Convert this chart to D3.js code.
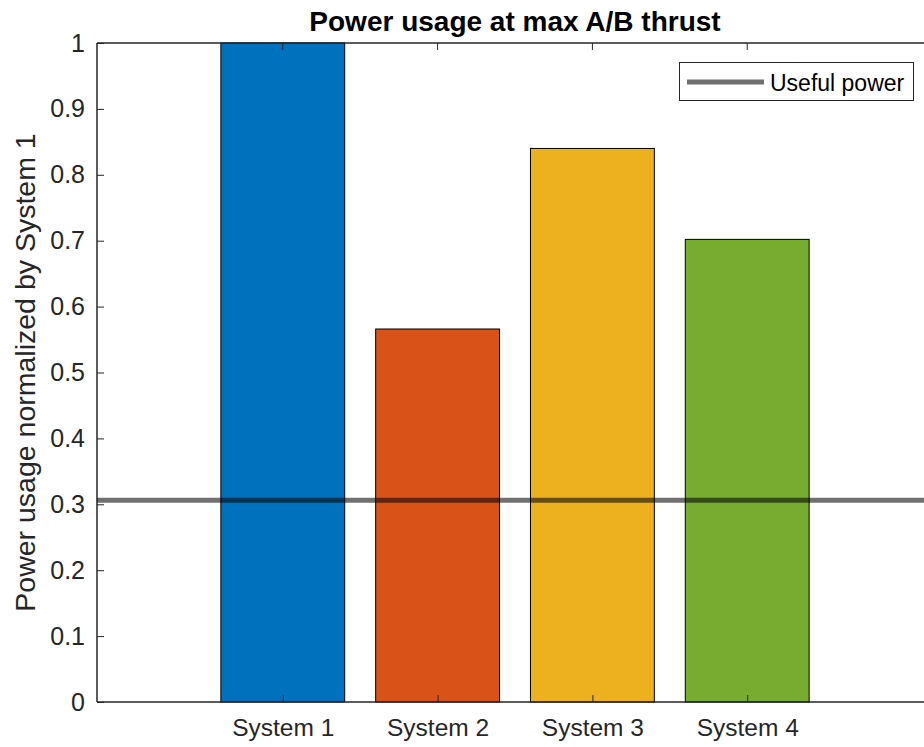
<!DOCTYPE html>
<html>
<head>
<meta charset="utf-8">
<script src="https://cdn.jsdelivr.net/npm/d3@7"></script>
<style>
  html, body { margin: 0; padding: 0; background: #fff; }
  svg { display: block; font-family: "Liberation Sans", Arial, Helvetica, sans-serif; }
</style>
</head>
<body>
<svg id="chart" width="924" height="747"></svg>
<script>
// Normalized power usage per system
const categories = ["System 1", "System 2", "System 3", "System 4"];
const values = [1.0, 0.566, 0.840, 0.702];
const barColors = ["#0072BD", "#D95319", "#EDB120", "#77AC30"];
const usefulPower = 0.306;
const yTicks = [0, 0.1, 0.2, 0.3, 0.4, 0.5, 0.6, 0.7, 0.8, 0.9, 1];
const title = "Power usage at max A/B thrust";
const yLabel = "Power usage normalized by System 1";
const legendLabel = "Useful power";

const svg = d3.select("#chart");
const margin = { left: 97, top: 43, bottom: 702, right: 933 };
const axisColor = "#262626";

// x positions: categories at 1..4, axis spanning -0.2..5.2
const x = d3.scaleLinear().domain([-0.2, 5.2]).range([margin.left, margin.right]);
const y = d3.scaleLinear().domain([0, 1]).range([margin.bottom, margin.top]);
const step = x(2) - x(1);
const barW = step * 0.8;

// bars
svg.append("g").selectAll("rect")
  .data(values)
  .join("rect")
  .attr("x", (d, i) => x(i + 1) - barW / 2)
  .attr("y", d => y(d))
  .attr("width", barW)
  .attr("height", d => y(0) - y(d))
  .attr("fill", (d, i) => barColors[i])
  .attr("stroke", "#000")
  .attr("stroke-width", 1);

// y axis (ticks inward)
const yAxis = d3.axisLeft(y).tickValues(yTicks).tickSize(-7).tickPadding(12)
  .tickFormat(d => d === 0 ? "0" : d === 1 ? "1" : d3.format(".1f")(d));
const gy = svg.append("g").attr("transform", `translate(${margin.left},0)`).call(yAxis);
gy.select(".domain").remove();
gy.selectAll("line").attr("stroke", axisColor);
gy.selectAll("text").attr("fill", axisColor).style("font-size", "25px");

// x axis (ticks inward)
const xAxis = d3.axisBottom(x).tickValues([1, 2, 3, 4]).tickSize(-7).tickPadding(17)
  .tickFormat((d, i) => categories[i]);
const gx = svg.append("g").attr("transform", `translate(0,${margin.bottom})`).call(xAxis);
gx.select(".domain").remove();
gx.selectAll("line").attr("stroke", axisColor);
gx.selectAll("text").attr("fill", axisColor).style("font-size", "24.5px");

// top ticks (box)
svg.append("g").selectAll("line")
  .data([1, 2, 3, 4])
  .join("line")
  .attr("x1", d => x(d)).attr("x2", d => x(d))
  .attr("y1", margin.top).attr("y2", margin.top + 7)
  .attr("stroke", axisColor);

// axis box lines
svg.append("line").attr("x1", margin.left).attr("x2", margin.right)
  .attr("y1", margin.bottom).attr("y2", margin.bottom)
  .attr("stroke", axisColor).attr("stroke-width", 1.5);
svg.append("line").attr("x1", margin.left).attr("x2", margin.right)
  .attr("y1", margin.top).attr("y2", margin.top)
  .attr("stroke", axisColor).attr("stroke-width", 1.5);
svg.append("line").attr("x1", margin.left).attr("x2", margin.left)
  .attr("y1", margin.top).attr("y2", margin.bottom)
  .attr("stroke", axisColor).attr("stroke-width", 1.5);

// useful power reference line
svg.append("line")
  .attr("x1", margin.left).attr("x2", margin.right)
  .attr("y1", y(usefulPower)).attr("y2", y(usefulPower))
  .attr("stroke", "#000").attr("stroke-opacity", 0.56).attr("stroke-width", 5);

// title
svg.append("text")
  .attr("x", x(2.5)).attr("y", 31)
  .attr("text-anchor", "middle")
  .attr("fill", "#000")
  .style("font-size", "28px").style("font-weight", "bold")
  .text(title);

// y label
svg.append("text")
  .attr("transform", `translate(35,${(margin.top + margin.bottom) / 2}) rotate(-90)`)
  .attr("text-anchor", "middle")
  .attr("fill", axisColor)
  .style("font-size", "28.5px")
  .text(yLabel);

// legend
const lg = svg.append("g");
lg.append("rect").attr("x", 679.5).attr("y", 62.5).attr("width", 234).attr("height", 38)
  .attr("fill", "#fff").attr("stroke", axisColor).attr("stroke-width", 1);
lg.append("line").attr("x1", 687).attr("x2", 764).attr("y1", 82).attr("y2", 82)
  .attr("stroke", "#000").attr("stroke-opacity", 0.56).attr("stroke-width", 5);
lg.append("text").attr("x", 770).attr("y", 91)
  .attr("fill", "#000").style("font-size", "23px")
  .text(legendLabel);
</script>
</body>
</html>
